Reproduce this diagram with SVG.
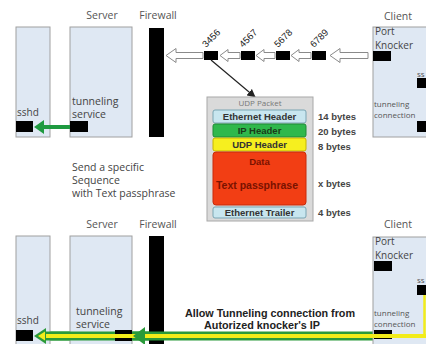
<svg xmlns="http://www.w3.org/2000/svg" width="426" height="344" viewBox="0 0 426 344">
<defs>
<style>
.lbl{font-family:"Open Sans","Liberation Sans",sans-serif;font-size:10.5px;fill:#555}
.txt{font-family:"Open Sans","Liberation Sans",sans-serif;font-size:10.5px;fill:#444}
.cl{font-family:"Open Sans","Liberation Sans",sans-serif;font-size:10px;fill:#444}
.sm{font-family:"Open Sans","Liberation Sans",sans-serif;font-size:8px;fill:#555}
.box{fill:#dfe8f3;stroke:#a0a0a0;stroke-width:1}
.blk{fill:#000}
.hol{fill:#fff;stroke:#8a8a8a;stroke-width:1}
.num{font-family:"Liberation Sans",Arial,sans-serif;font-size:9.5px;fill:#222}
.pk{font-family:"Liberation Sans",Arial,sans-serif;font-size:9.5px;font-weight:bold;fill:#333;text-anchor:middle}
.by{font-family:"Liberation Sans",Arial,sans-serif;font-size:9.5px;font-weight:bold;fill:#444}
.bold{font-family:"Liberation Sans",Arial,sans-serif;font-size:10.8px;font-weight:bold;fill:#222;text-anchor:middle}
</style>
<marker id="ah" viewBox="0 0 10 10" refX="9" refY="5" markerWidth="7" markerHeight="7" orient="auto"><path d="M0,0 L10,5 L0,10 Z" fill="#222"/></marker>
</defs>
<rect width="426" height="344" fill="#fff"/>

<!-- Top panel -->
<g id="top-labels">
<text class="lbl" x="102" y="19" text-anchor="middle">Server</text>
<text class="lbl" x="158" y="19" text-anchor="middle">Firewall</text>
<text class="lbl" x="398" y="20" text-anchor="middle">Client</text>
</g>
<g id="top-sshd">
<rect class="box" x="16" y="27" width="34" height="110"/>
<text class="txt" x="17" y="116" style="font-size:10px">sshd</text>
<rect class="blk" x="16" y="121" width="17" height="11"/>
</g>
<g id="top-tunneling-service">
<rect class="box" x="70" y="27" width="62" height="110"/>
<text class="txt" x="72" y="105">tunneling</text>
<text class="txt" x="72" y="118">service</text>
<rect class="blk" x="70" y="121" width="18" height="11"/>
</g>
<g id="top-firewall">
<rect class="blk" x="149" y="28" width="15" height="109"/>
</g>
<g id="top-client">
<rect class="box" x="373" y="27" width="60" height="110"/>
<text class="cl" x="375" y="35">Port</text>
<text class="cl" x="375" y="49">Knocker</text>
<rect class="blk" x="373" y="51" width="18" height="10"/>
<text class="sm" x="417" y="77">ss</text>
<rect class="blk" x="417" y="78" width="12" height="10"/>
<text class="sm" x="374" y="107">tunneling</text>
<text class="sm" x="374" y="118">connection</text>
<rect class="blk" x="417" y="121" width="12" height="11"/>
</g>
<g id="knock-sequence">
<rect class="blk" x="204" y="51" width="14" height="9"/>
<rect class="blk" x="241" y="51" width="14" height="9"/>
<rect class="blk" x="276" y="51" width="14" height="9"/>
<rect class="blk" x="312" y="51" width="14" height="9"/>
<text class="num" transform="translate(206 48) rotate(-45)">3456</text>
<text class="num" transform="translate(243 48) rotate(-45)">4567</text>
<text class="num" transform="translate(278 48) rotate(-45)">5678</text>
<text class="num" transform="translate(314 48) rotate(-45)">6789</text>
</g>
<g id="connectors">
<path class="hol" d="M166,55.5 L176,48.5 L176,52.5 L203,52.5 L203,58.5 L176,58.5 L176,62.5 Z"/>
<path class="hol" d="M220,55.5 L228,49.5 L228,52.5 L240,52.5 L240,58.5 L228,58.5 L228,61.5 Z"/>
<path class="hol" d="M256,55.5 L264,49.5 L264,52.5 L275,52.5 L275,58.5 L264,58.5 L264,61.5 Z"/>
<path class="hol" d="M291,55.5 L299,49.5 L299,52.5 L311,52.5 L311,58.5 L299,58.5 L299,61.5 Z"/>
<path class="hol" d="M330,55.5 L340,48.5 L340,52.5 L368,52.5 L368,58.5 L340,58.5 L340,62.5 Z"/>
<line x1="211" y1="60" x2="255" y2="97" stroke="#222" stroke-width="1.2" marker-end="url(#ah)"/>
<line x1="70" y1="127" x2="42" y2="127" stroke="#1f9a40" stroke-width="4"/>
<path d="M34,127 L44,120 L44,134 Z" fill="#1f9a40"/>
<!-- bottom tunnel -->
<line x1="42" y1="336" x2="392" y2="336" stroke="#2a9a3a" stroke-width="9"/>
</g>

<g id="send-text">
<text class="txt" x="72" y="171">Send a specific</text>
<text class="txt" x="72" y="184">Sequence</text>
<text class="txt" x="72" y="197">with Text passphrase</text>
</g>

<g id="udp-packet">
<rect x="207" y="97" width="106" height="124" fill="#dadada" stroke="#a8a8a8"/>
<text class="sm" x="260" y="106" text-anchor="middle" style="fill:#777">UDP Packet</text>
<rect x="213" y="110" width="93" height="13" rx="2" fill="#c8e6ef" stroke="#7aa5b3"/>
<text class="pk" x="259.5" y="120">Ethernet Header</text>
<rect x="213" y="124" width="93" height="13" rx="2" fill="#2fb84c" stroke="#1f8a37"/>
<text class="pk" x="259.5" y="134" style="fill:#1b3a1b">IP Header</text>
<rect x="213" y="138" width="93" height="13" rx="2" fill="#f6ef1f" stroke="#c6b600"/>
<text class="pk" x="259.5" y="148">UDP Header</text>
<rect x="213" y="152" width="93" height="53" rx="3" fill="#f23e14" stroke="#c82a0a"/>
<text class="pk" x="259.5" y="165" style="fill:#7a1200">Data</text>
<text class="pk" x="257" y="189" style="fill:#7a1200;font-size:10.5px">Text passphrase</text>
<rect x="213" y="207" width="93" height="11" rx="2" fill="#c8e6ef" stroke="#7aa5b3"/>
<text class="pk" x="259.5" y="216">Ethernet Trailer</text>
</g>
<g id="byte-sizes">
<text class="by" x="318" y="120">14 bytes</text>
<text class="by" x="318" y="135">20 bytes</text>
<text class="by" x="318" y="150">8 bytes</text>
<text class="by" x="318" y="187">x bytes</text>
<text class="by" x="318" y="216">4 bytes</text>
</g>

<!-- Bottom panel -->
<g id="bottom-labels">
<text class="lbl" x="102" y="228" text-anchor="middle">Server</text>
<text class="lbl" x="158" y="228" text-anchor="middle">Firewall</text>
<text class="lbl" x="398" y="228" text-anchor="middle">Client</text>
</g>
<g id="bottom-sshd">
<rect class="box" x="16" y="236" width="34" height="120"/>
<text class="txt" x="17" y="324" style="font-size:10px">sshd</text>
<rect class="blk" x="16" y="330" width="17" height="11"/>
</g>
<g id="bottom-tunneling-service">
<rect class="box" x="70" y="236" width="62" height="120"/>
<text class="txt" x="76" y="315">tunneling</text>
<text class="txt" x="76" y="328">service</text>
</g>
<g id="bottom-firewall">
<rect class="blk" x="149" y="236" width="15" height="110"/>
</g>
<g id="bottom-client">
<rect class="box" x="373" y="237" width="60" height="120"/>
<text class="cl" x="375" y="245">Port</text>
<text class="cl" x="375" y="259">Knocker</text>
<rect class="blk" x="374" y="261" width="18" height="10"/>
<text class="sm" x="417" y="283">ss</text>
<rect class="blk" x="417" y="285" width="12" height="10"/>
<text class="sm" x="374" y="316">tunneling</text>
<text class="sm" x="374" y="327">connection</text>
</g>
<g id="tunnel-line">
<line x1="42" y1="336" x2="164" y2="336" stroke="#2a9a3a" stroke-width="9"/>
<rect class="blk" x="115" y="330" width="17" height="11"/>
<rect class="blk" x="374" y="330" width="18" height="9"/>
<line x1="40" y1="336" x2="426" y2="336" stroke="#f2ec1a" stroke-width="4"/>
<line x1="424.5" y1="295" x2="424.5" y2="336" stroke="#f2ec1a" stroke-width="2.5"/>
<path d="M34,336 L46,328 L46,344 Z" fill="#2a9a3a"/>
<path d="M38,336 L45,331.5 L45,340.5 Z" fill="#f2ec1a"/>
<path d="M133,336 L145,327 L145,345 Z" fill="#2a9a3a"/>
</g>
<g id="allow-text">
<text class="bold" x="270" y="317">Allow Tunneling connection from</text>
<text class="bold" x="262" y="329">Autorized knocker's IP</text>
</g>
</svg>
